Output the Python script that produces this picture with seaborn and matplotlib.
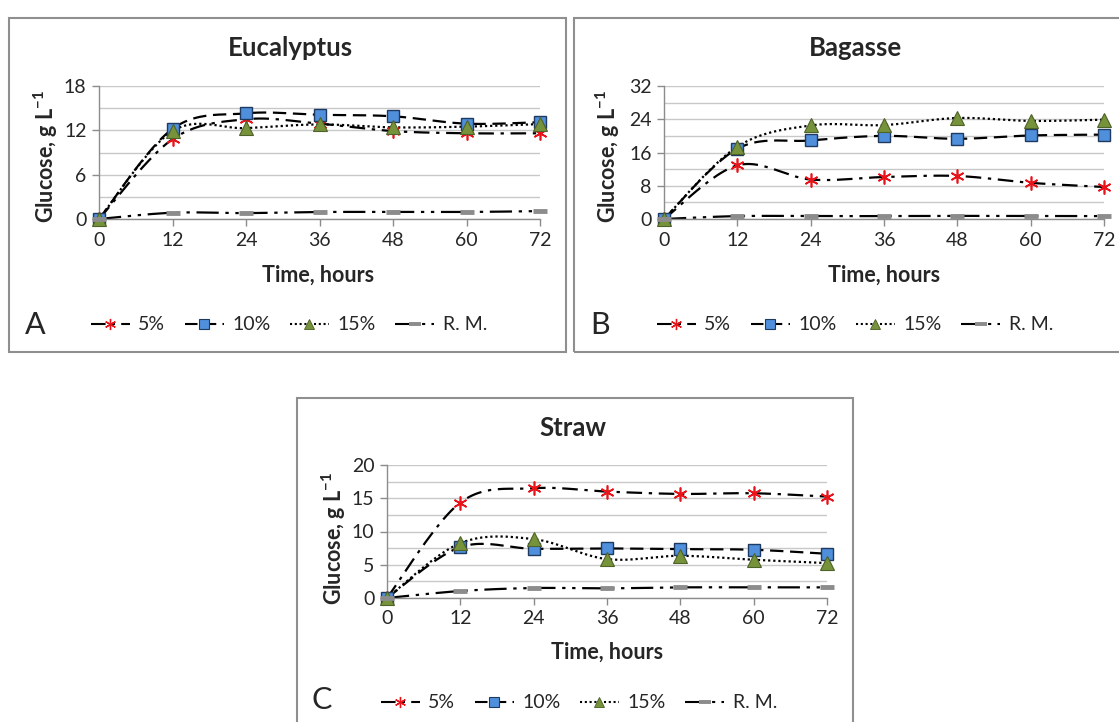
import numpy as np
import pandas as pd
import matplotlib
matplotlib.use("Agg")
import matplotlib.pyplot as plt
import seaborn as sns
from matplotlib.lines import Line2D
from matplotlib.patches import Rectangle

hours = [0, 12, 24, 36, 48, 60, 72]
series = ["5%", "10%", "15%", "R. M."]

euc_5 = [0, 10.8, 13.5, 12.9, 11.9, 11.6, 11.6]
euc_10 = [0, 12.2, 14.3, 14.1, 13.9, 12.9, 13.1]
euc_15 = [0, 11.9, 12.3, 12.8, 12.4, 12.5, 12.85]
euc_rm = [0, 0.85, 0.8, 0.95, 0.95, 0.95, 1.07]

bag_5 = [0, 12.9, 9.5, 10.1, 10.35, 8.7, 7.7]
bag_10 = [0, 16.9, 18.9, 20.0, 19.3, 20.1, 20.3]
bag_15 = [0, 17.4, 22.5, 22.6, 24.3, 23.6, 23.9]
bag_rm = [0, 0.7, 0.7, 0.7, 0.75, 0.7, 0.7]

str_5 = [0, 14.35, 16.5, 16.0, 15.65, 15.75, 15.25]
str_10 = [0, 7.65, 7.4, 7.45, 7.35, 7.25, 6.65]
str_15 = [0, 8.25, 8.85, 5.85, 6.35, 5.75, 5.25]
str_rm = [0, 1.05, 1.5, 1.45, 1.6, 1.6, 1.6]

sns.set_style("white")
plt.rcParams['font.family'] = ['Lato', 'DejaVu Sans']
plt.rcParams['mathtext.fontset'] = 'custom'
plt.rcParams['mathtext.rm'] = 'Lato'
plt.rcParams['mathtext.bf'] = 'Lato:bold'

W, H = 1119, 722
fig = plt.figure(figsize=(W / 100, H / 100), dpi=100)

styles = {
    "5%": dict(ls=(0, (7, 3, 1.5, 3)), marker=(6, 2, 0), ms=10, mfc='#e8141b', mec='#e8141b', mew=1.2),
    "10%": dict(ls=(0, (6, 3)), marker='s', ms=8.5, mfc='#4f8fdc', mec='#1f3a60', mew=1.0),
    "15%": dict(ls=(0, (1, 1.3)), marker='^', ms=9.5, mfc='#76933c', mec='#4f6228', mew=0.8),
    "R. M.": dict(ls=(0, (10, 3, 1.5, 3, 1.5, 3)), marker='_', ms=10, mfc='#8c8c8c', mec='#8c8c8c', mew=3.5),
}


def smooth(x, y, n=25):
    # Excel style smoothed line (bezier through the points)
    p = np.column_stack([x, y]).astype(float)
    p = np.vstack([p[0], p, p[-1]])
    out = []
    t = np.linspace(0, 1, n)[:, None]
    for i in range(1, len(p) - 2):
        p0, p1, p2, p3 = p[i - 1], p[i], p[i + 1], p[i + 2]
        c1 = p1 + (p2 - p0) / 6
        c2 = p2 - (p3 - p1) / 6
        seg = (1 - t) ** 3 * p1 + 3 * (1 - t) ** 2 * t * c1 + 3 * (1 - t) * t ** 2 * c2 + t ** 3 * p2
        out.append(seg if i == 1 else seg[1:])
    return np.vstack(out)


def px(x, y):
    return x / W, 1 - y / H


panels = [
    dict(name="Eucalyptus", letter="A", data=[euc_5, euc_10, euc_15, euc_rm], ymax=18, step=6,
         ax=(99, 86, 540, 219), box=(9, 18, 566, 352), title=(290, 48), ylab=(46, 156),
         xlab=(318, 275), leg=(289, 325), let=(35, 325)),
    dict(name="Bagasse", letter="B", data=[bag_5, bag_10, bag_15, bag_rm], ymax=32, step=8,
         ax=(664, 86, 1104, 219), box=(574, 18, 1125, 352), title=(855, 48), ylab=(608, 156),
         xlab=(884, 275), leg=(855, 325), let=(600, 325)),
    dict(name="Straw", letter="C", data=[str_5, str_10, str_15, str_rm], ymax=20, step=5,
         ax=(387, 465, 827, 598), box=(297, 398, 853, 740), title=(573, 428), ylab=(334, 538),
         xlab=(607, 652), leg=(579, 703), let=(322, 700)),
]

for p in panels:
    x0, y0, x1, y1 = p["box"]
    fig.patches.append(Rectangle(px(x0, y1), (x1 - x0) / W, (y1 - y0) / H, transform=fig.transFigure,
                                 fill=False, edgecolor='#8f8f8f', lw=1.5, zorder=0))

    l, t, r, b = p["ax"]
    ax = fig.add_axes([l / W, 1 - b / H, (r - l) / W, (b - t) / H])
    ax.set_xlim(0, 72)
    ax.set_ylim(0, p["ymax"])
    ax.set_xticks(hours)
    ax.set_yticks(np.arange(0, p["ymax"] + 1, p["step"]))
    ax.set_yticks(np.arange(p["step"] / 2, p["ymax"], p["step"]), minor=True)
    ax.grid(True, which='both', axis='y', color='#c8c8c8', lw=1)
    ax.set_axisbelow(True)
    for s in ["top", "right"]:
        ax.spines[s].set_visible(False)
    for s in ["left", "bottom"]:
        ax.spines[s].set_color('#8c8c8c')
        ax.spines[s].set_linewidth(1)
    ax.tick_params(axis='both', which='major', labelsize=14, color='#8c8c8c', length=5, width=1,
                   direction='out', bottom=True, left=True, pad=4)
    ax.tick_params(axis='y', which='minor', length=0)

    for name, vals in zip(series, p["data"]):
        st = styles[name]
        curve = smooth(hours, vals)
        df = pd.DataFrame({"h": curve[:, 0], "g": curve[:, 1]})
        sns.lineplot(data=df, x="h", y="g", ax=ax, color='black', lw=1.6, linestyle=st["ls"],
                     sort=False, estimator=None, clip_on=False)
        sns.lineplot(x=hours, y=vals, ax=ax, linestyle='none', marker=st["marker"], markersize=st["ms"],
                     markerfacecolor=st["mfc"], markeredgecolor=st["mec"], markeredgewidth=st["mew"],
                     color=st["mec"], sort=False, estimator=None, clip_on=False, zorder=5)
    ax.set_xlabel("")
    ax.set_ylabel("")

    fig.text(*px(*p["title"]), p["name"], ha='center', va='center', fontsize=18.5, fontweight='bold')
    fig.text(*px(*p["ylab"]), "Glucose, g L$^{\\mathbf{-1}}$", ha='center', va='center', rotation=90,
             fontsize=15.5, fontweight='bold')
    fig.text(*px(*p["xlab"]), "Time, hours", ha='center', va='center', fontsize=15.5, fontweight='bold')
    fig.text(*px(*p["let"]), p["letter"], ha='center', va='center', fontsize=22)

    handles = [Line2D([], [], color='black', lw=1.5, linestyle=styles[n]["ls"], marker=styles[n]["marker"],
                      markersize=styles[n]["ms"] * 0.8, markerfacecolor=styles[n]["mfc"],
                      markeredgecolor=styles[n]["mec"], markeredgewidth=styles[n]["mew"] * 0.8)
               for n in series]
    fig.legend(handles, series, loc='center', bbox_to_anchor=px(*p["leg"]), ncol=4, frameon=False,
               fontsize=14, handlelength=2.0, handletextpad=0.45, columnspacing=1.0)

fig.savefig("out.png", dpi=100)
